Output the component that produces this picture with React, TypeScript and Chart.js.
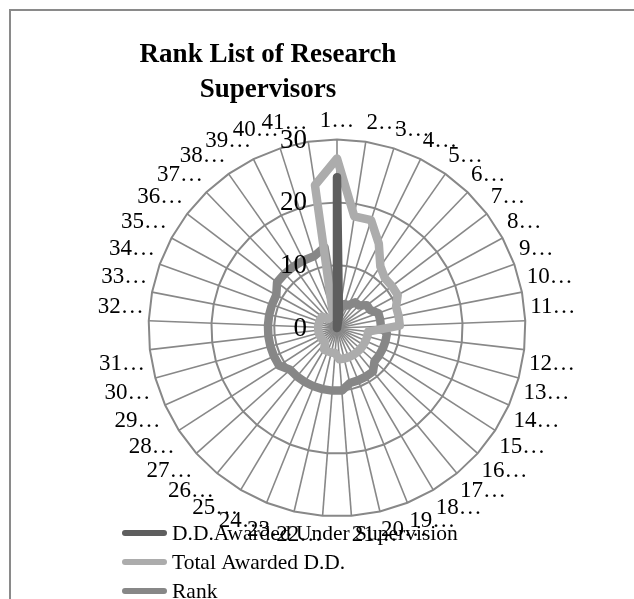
import React, { useEffect, useRef } from "react";
import { Chart, registerables } from "chart.js";
Chart.register(...registerables);

const categories = [
  "1…", "2…", "3…", "4…", "5…", "6…", "7…", "8…", "9…", "10…",
  "11…", "12…", "13…", "14…", "15…", "16…", "17…", "18…", "19…", "20…",
  "21…", "22…", "23…", "24…", "25…", "26…", "27…", "28…", "29…", "30…",
  "31…", "32…", "33…", "34…", "35…", "36…", "37…", "38…", "39…", "40…",
  "41…",
];

const ddUnderSupervision = [
  24, 2, 0, 0, 0, 0, 0, 0, 0, 0,
  0, 0, 0, 0, 0, 0, 0, 0, 0, 0,
  0, 0, 0, 0, 0, 0, 0, 0, 0, 0,
  0, 0, 0, 0, 0, 0, 0, 0, 0, 0,
  0,
];

const totalAwarded = [
  27, 18, 18, 15, 12, 11, 11, 11, 10, 10,
  10, 5, 5, 5, 5, 5, 5, 5, 5, 5,
  5, 4, 4, 4, 4, 3, 3, 3, 3, 3,
  3, 3, 3, 3, 3, 3, 2, 2, 2, 2,
  23,
];

const rank = [
  1, 3, 4, 4, 5, 5, 6, 6, 7, 7,
  7, 8, 8, 8, 8, 8, 9, 9, 9, 9,
  10, 10, 10, 10, 10, 10, 10, 11, 11, 11,
  11, 11, 11, 11, 11, 12, 12, 12, 12, 12,
  13,
];

const tickValues = [0, 10, 20, 30];
const seriesNames = ["D.D.Awarded Under Supervision", "Total Awarded D.D.", "Rank"];
const titleLines = ["Rank List of Research", "Supervisors"];

const SERIF = "'Liberation Serif', 'DejaVu Serif', serif";

const customText = {
  id: "customText",
  afterDatasetsDraw(chart: any) {
    const ctx = chart.ctx;
    const r = chart.scales.r;
    ctx.save();
    ctx.font = `27px ${SERIF}`;
    ctx.fillStyle = "#000";
    ctx.textAlign = "right";
    ctx.textBaseline = "middle";
    tickValues.forEach((v) => {
      const d = r.getDistanceFromCenterForValue(v);
      ctx.fillText(String(v), r.xCenter - 30, r.yCenter - d + 1);
    });
    ctx.restore();
  },
  afterDraw(chart: any) {
    const ctx = chart.ctx;
    ctx.save();
    ctx.font = `bold 27px ${SERIF}`;
    ctx.fillStyle = "#000";
    ctx.textAlign = "center";
    ctx.textBaseline = "alphabetic";
    ctx.fillText(titleLines[0], 257, 51);
    ctx.fillText(titleLines[1], 257, 86);
    ctx.font = `21.5px ${SERIF}`;
    ctx.textAlign = "left";
    ctx.textBaseline = "middle";
    chart.data.datasets.forEach((ds: any, i: number) => {
      const y = 522 + i * 29;
      ctx.strokeStyle = ds.borderColor;
      ctx.lineWidth = 6;
      ctx.lineCap = "round";
      ctx.beginPath();
      ctx.moveTo(114, y);
      ctx.lineTo(153, y);
      ctx.stroke();
      ctx.fillStyle = "#000";
      ctx.fillText(ds.label, 161, y + 1);
    });
    ctx.restore();
  },
};

export default function App() {
  const ref = useRef<HTMLCanvasElement | null>(null);
  useEffect(() => {
    if (!ref.current) return;
    const common = {
      backgroundColor: "transparent",
      borderWidth: 8.5,
      pointRadius: 0,
      fill: false,
      borderJoinStyle: "round" as const,
    };
    const chart = new Chart(ref.current, {
      type: "radar",
      data: {
        labels: categories,
        datasets: [
          { ...common, label: seriesNames[0], data: ddUnderSupervision, borderColor: "#5e5e5e" },
          { ...common, label: seriesNames[1], data: totalAwarded, borderColor: "#acacac" },
          { ...common, label: seriesNames[2], data: rank, borderColor: "#878787" },
        ],
      },
      options: {
        responsive: false,
        animation: false,
        devicePixelRatio: 1,
        layout: { padding: { left: 78, top: 96, right: 48, bottom: 49 } },
        plugins: {
          legend: { display: false },
          title: { display: false },
          tooltip: { enabled: false },
        },
        scales: {
          r: {
            min: 0,
            max: 30,
            ticks: { stepSize: 10, display: false },
            grid: { color: "#888888", lineWidth: 2 },
            angleLines: { color: "#888888", lineWidth: 1.6 },
            pointLabels: {
              font: { size: 23, family: SERIF },
              color: "#000",
              padding: 5,
            },
          },
        },
      },
      plugins: [customText],
    });
    return () => chart.destroy();
  }, []);
  return (
    <div
      style={{
        position: "fixed",
        left: 9,
        top: 9,
        width: 625,
        height: 590,
        boxSizing: "border-box",
        borderLeft: "2px solid #8a8a8a",
        borderTop: "2px solid #8a8a8a",
        background: "#fff",
      }}
    >
      <canvas ref={ref} width={623} height={588} style={{ display: "block" }} />
    </div>
  );
}
